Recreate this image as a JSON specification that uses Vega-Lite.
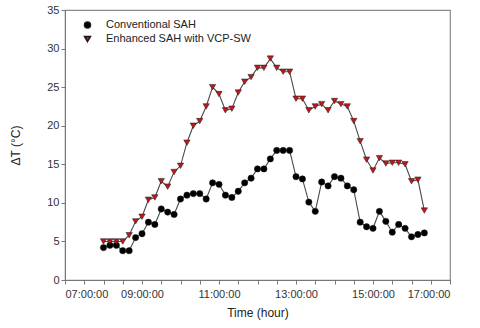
{
  "$schema": "https://vega.github.io/schema/vega-lite/v6.json",
  "width": 385,
  "height": 270,
  "autosize": "none",
  "padding": {"left": 65, "top": 10, "right": 30, "bottom": 48},
  "background": "white",
  "data": {"values": [
    {"t": "2024-01-01T08:00", "c": 4.2, "e": 5.0},
    {"t": "2024-01-01T08:10", "c": 4.5, "e": 5.0},
    {"t": "2024-01-01T08:20", "c": 4.5, "e": 5.0},
    {"t": "2024-01-01T08:30", "c": 3.8, "e": 5.0},
    {"t": "2024-01-01T08:40", "c": 3.8, "e": 5.8},
    {"t": "2024-01-01T08:50", "c": 5.5, "e": 7.6},
    {"t": "2024-01-01T09:00", "c": 6.0, "e": 8.2},
    {"t": "2024-01-01T09:10", "c": 7.5, "e": 10.4},
    {"t": "2024-01-01T09:20", "c": 7.2, "e": 10.7},
    {"t": "2024-01-01T09:30", "c": 9.2, "e": 12.8},
    {"t": "2024-01-01T09:40", "c": 8.8, "e": 12.1},
    {"t": "2024-01-01T09:50", "c": 8.5, "e": 14.0},
    {"t": "2024-01-01T10:00", "c": 10.5, "e": 14.8},
    {"t": "2024-01-01T10:10", "c": 11.0, "e": 17.8},
    {"t": "2024-01-01T10:20", "c": 11.2, "e": 20.0},
    {"t": "2024-01-01T10:30", "c": 11.2, "e": 20.6},
    {"t": "2024-01-01T10:40", "c": 10.5, "e": 22.5},
    {"t": "2024-01-01T10:50", "c": 12.6, "e": 25.0},
    {"t": "2024-01-01T11:00", "c": 12.4, "e": 24.1},
    {"t": "2024-01-01T11:10", "c": 11.0, "e": 22.0},
    {"t": "2024-01-01T11:20", "c": 10.7, "e": 22.2},
    {"t": "2024-01-01T11:30", "c": 11.5, "e": 24.3},
    {"t": "2024-01-01T11:40", "c": 12.6, "e": 25.7},
    {"t": "2024-01-01T11:50", "c": 13.2, "e": 26.3},
    {"t": "2024-01-01T12:00", "c": 14.4, "e": 27.5},
    {"t": "2024-01-01T12:10", "c": 14.4, "e": 27.5},
    {"t": "2024-01-01T12:20", "c": 15.7, "e": 28.7},
    {"t": "2024-01-01T12:30", "c": 16.8, "e": 27.5},
    {"t": "2024-01-01T12:40", "c": 16.8, "e": 27.0},
    {"t": "2024-01-01T12:50", "c": 16.8, "e": 27.0},
    {"t": "2024-01-01T13:00", "c": 13.4, "e": 23.5},
    {"t": "2024-01-01T13:10", "c": 13.1, "e": 23.5},
    {"t": "2024-01-01T13:20", "c": 10.1, "e": 22.0},
    {"t": "2024-01-01T13:30", "c": 8.9, "e": 22.5},
    {"t": "2024-01-01T13:40", "c": 12.7, "e": 22.8},
    {"t": "2024-01-01T13:50", "c": 12.2, "e": 22.0},
    {"t": "2024-01-01T14:00", "c": 13.4, "e": 23.2},
    {"t": "2024-01-01T14:10", "c": 13.2, "e": 22.8},
    {"t": "2024-01-01T14:20", "c": 12.2, "e": 22.5},
    {"t": "2024-01-01T14:30", "c": 11.7, "e": 20.6},
    {"t": "2024-01-01T14:40", "c": 7.5, "e": 18.0},
    {"t": "2024-01-01T14:50", "c": 6.9, "e": 15.6},
    {"t": "2024-01-01T15:00", "c": 6.7, "e": 14.2},
    {"t": "2024-01-01T15:10", "c": 8.9, "e": 15.8},
    {"t": "2024-01-01T15:20", "c": 7.6, "e": 15.1},
    {"t": "2024-01-01T15:30", "c": 6.2, "e": 15.2},
    {"t": "2024-01-01T15:40", "c": 7.2, "e": 15.2},
    {"t": "2024-01-01T15:50", "c": 6.7, "e": 15.0},
    {"t": "2024-01-01T16:00", "c": 5.6, "e": 12.8},
    {"t": "2024-01-01T16:10", "c": 5.9, "e": 13.0},
    {"t": "2024-01-01T16:20", "c": 6.1, "e": 9.0}
  ]},
  "transform": [{"fold": ["c", "e"], "as": ["series", "dT"]}],
  "encoding": {
    "x": {
      "field": "t", "type": "temporal",
      "scale": {"domain": [
        {"year": 2024, "month": 1, "date": 1, "hours": 7},
        {"year": 2024, "month": 1, "date": 1, "hours": 17}
      ]},
      "axis": {
        "title": "Time (hour)",
        "values": [
          {"year": 2024, "month": 1, "date": 1, "hours": 7, "minutes": 0},
          {"year": 2024, "month": 1, "date": 1, "hours": 7, "minutes": 30},
          {"year": 2024, "month": 1, "date": 1, "hours": 8, "minutes": 0},
          {"year": 2024, "month": 1, "date": 1, "hours": 8, "minutes": 30},
          {"year": 2024, "month": 1, "date": 1, "hours": 9, "minutes": 0},
          {"year": 2024, "month": 1, "date": 1, "hours": 9, "minutes": 30},
          {"year": 2024, "month": 1, "date": 1, "hours": 10, "minutes": 0},
          {"year": 2024, "month": 1, "date": 1, "hours": 10, "minutes": 30},
          {"year": 2024, "month": 1, "date": 1, "hours": 11, "minutes": 0},
          {"year": 2024, "month": 1, "date": 1, "hours": 11, "minutes": 30},
          {"year": 2024, "month": 1, "date": 1, "hours": 12, "minutes": 0},
          {"year": 2024, "month": 1, "date": 1, "hours": 12, "minutes": 30},
          {"year": 2024, "month": 1, "date": 1, "hours": 13, "minutes": 0},
          {"year": 2024, "month": 1, "date": 1, "hours": 13, "minutes": 30},
          {"year": 2024, "month": 1, "date": 1, "hours": 14, "minutes": 0},
          {"year": 2024, "month": 1, "date": 1, "hours": 14, "minutes": 30},
          {"year": 2024, "month": 1, "date": 1, "hours": 15, "minutes": 0},
          {"year": 2024, "month": 1, "date": 1, "hours": 15, "minutes": 30},
          {"year": 2024, "month": 1, "date": 1, "hours": 16, "minutes": 0},
          {"year": 2024, "month": 1, "date": 1, "hours": 16, "minutes": 30},
          {"year": 2024, "month": 1, "date": 1, "hours": 17, "minutes": 0}
        ],
        "labelExpr": "(timeFormat(datum.value, '%H:%M') == '07:00' || timeFormat(datum.value, '%H:%M') == '09:00' || timeFormat(datum.value, '%H:%M') == '11:00' || timeFormat(datum.value, '%H:%M') == '13:00' || timeFormat(datum.value, '%H:%M') == '15:00' || timeFormat(datum.value, '%H:%M') == '17:00') ? timeFormat(datum.value, '%H:%M:%S') : ''",
        "labelOverlap": false,
        "labelPadding": 4,
        "titlePadding": 8,
        "grid": false
      }
    },
    "y": {
      "field": "dT", "type": "quantitative",
      "scale": {"domain": [0, 35], "nice": false},
      "axis": {
        "title": "ΔT (°C)",
        "values": [0, 5, 10, 15, 20, 25, 30, 35],
        "grid": false,
        "titlePadding": 24
      }
    }
  },
  "layer": [
    {
      "mark": {"type": "line", "color": "#4a4a4a", "strokeWidth": 1.1},
      "encoding": {"detail": {"field": "series"}}
    },
    {
      "mark": {"type": "point", "filled": true, "size": 40, "stroke": "#1a1a1a", "strokeWidth": 0.5, "opacity": 1},
      "encoding": {
        "fill": {
          "field": "series", "type": "nominal",
          "scale": {"domain": ["c", "e"], "range": ["#000000", "#c0171a"]},
          "legend": {
            "orient": "none", "legendX": 17, "legendY": 9.5,
            "title": null, "padding": 0, "rowPadding": 1,
            "symbolSize": 36, "labelOffset": 13,
            "labelFont": "Liberation Sans", "labelFontSize": 11, "labelColor": "#222",
            "labelExpr": "datum.label == 'c' ? 'Conventional SAH' : 'Enhanced SAH with VCP-SW'",
            "encode": {"symbols": {"update": {
              "stroke": {"value": "#222"},
              "strokeWidth": {"value": 0.9}
            }}}
          }
        },
        "shape": {
          "field": "series", "type": "nominal",
          "scale": {"domain": ["c", "e"], "range": ["circle", "triangle-down"]},
          "legend": {
            "orient": "none", "legendX": 17, "legendY": 9.5,
            "title": null, "padding": 0, "rowPadding": 1,
            "symbolSize": 36, "labelOffset": 13,
            "labelFont": "Liberation Sans", "labelFontSize": 11, "labelColor": "#222",
            "labelExpr": "datum.label == 'c' ? 'Conventional SAH' : 'Enhanced SAH with VCP-SW'",
            "encode": {"symbols": {"update": {
              "stroke": {"value": "#222"},
              "strokeWidth": {"value": 0.9}
            }}}
          }
        }
      }
    }
  ],
  "config": {
    "view": {"stroke": "#8a8a8a", "strokeWidth": 1.2},
    "axis": {
      "domainColor": "#777", "tickColor": "#777", "tickSize": 4,
      "labelFont": "Liberation Sans", "labelFontSize": 11, "labelColor": "#333",
      "titleFont": "Liberation Sans", "titleFontSize": 12, "titleFontWeight": "normal", "titleColor": "#222"
    }
  }
}
